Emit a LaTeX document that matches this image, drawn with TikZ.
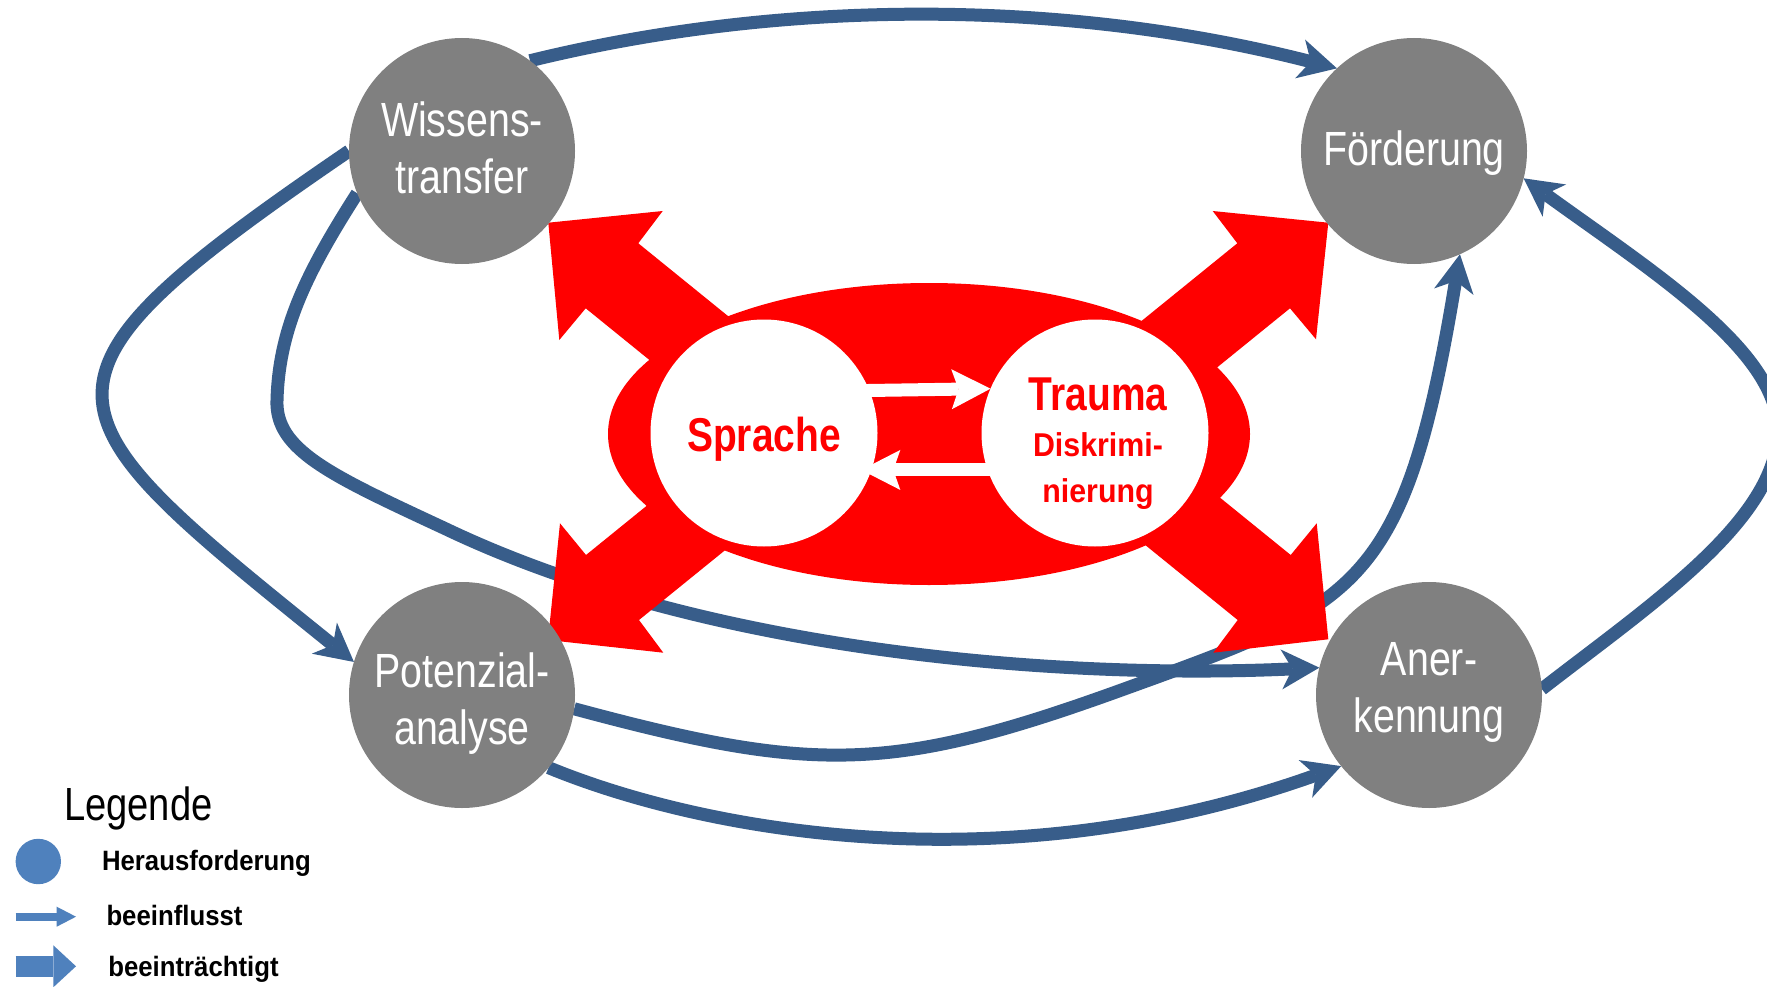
\documentclass[tikz,border=0pt]{standalone}
\usepackage{fontspec}
\usetikzlibrary{arrows.meta}
\newfontfamily\narrowf[FakeStretch=0.82]{Liberation Sans}
\newfontfamily\semif[FakeStretch=0.92]{Liberation Sans}
\definecolor{cblue}{RGB}{56,93,138}
\definecolor{lblue}{RGB}{79,129,189}
\definecolor{cgray}{RGB}{128,128,128}
\definecolor{cred}{RGB}{255,0,0}
\pgfdeclarelayer{bglayer}
\pgfdeclarelayer{midlayer}
\pgfsetlayers{bglayer,midlayer,main}
\tikzset{
  gnode/.style={circle, fill=cgray, minimum size=226pt, inner sep=0pt, outer sep=0pt,
    align=center, text=white, font=\narrowf\fontsize{48}{57}\selectfont, text depth=0pt},
  wnode/.style={circle, fill=white, minimum size=227pt, inner sep=0pt, outer sep=0pt,
    align=center, text=cred, text depth=0pt},
  conn/.style={line width=13pt, draw=cblue,
    -{Stealth[length=38pt,width=40pt,inset=11pt,line width=0pt]}},
  warrow/.style={line width=13pt, draw=white,
    -{Stealth[length=39pt,width=40pt,inset=7pt,line width=0pt]}},
  redshape/.style={fill=cred},
  legtext/.style={anchor=base west, inner sep=0pt, outer sep=0pt,
    font=\semif\bfseries\fontsize{28}{32}\selectfont},
}
\begin{document}
\begin{tikzpicture}[x=1pt,y=-1pt]
\useasboundingbox (0,0) rectangle (1767,987);

% nodes
\node[gnode, text height=86pt] (W) at (462,151) {Wissens-\\transfer};
\node[gnode, text height=30pt] (F) at (1414,151) {Förderung};
\node[gnode, text height=98pt] (P) at (462,695) {Potenzial-\\analyse};
\node[gnode, text height=74pt] (A) at (1429,695) {Aner-\\kennung};
\node[wnode, text height=36pt, font=\narrowf\bfseries\fontsize{47.5}{50}\selectfont] (S) at (764,433) {Sprache};
\node[wnode, text height=139.4pt, font=\semif\bfseries\fontsize{33}{46}\selectfont] (T) at (1095,433)
  {\hspace*{6pt}{\narrowf\bfseries\fontsize{47.5}{46}\selectfont Trauma}\\\hspace*{6pt}Diskrimi-\\\hspace*{6pt}nierung};

% white arrows between Sprache and Trauma
\draw[warrow, shorten <=-6pt] (S.22.7) -- (T.157.5);
\draw[warrow, shorten <=-6pt, shorten >=-10pt] (T.199) -- (S.341);

% red shapes
\begin{pgfonlayer}{midlayer}
\fill[redshape] (929,434) ellipse [x radius=321pt, y radius=151pt];
\fill[redshape] (548.3,222.7) -- (662.7,211) -- (638.3,243.3) -- (809.2,381.9) -- (756.6,446.9) -- (585.7,308.3) -- (559.3,340) -- cycle;
\fill[redshape] (1328.3,222.7) -- (1212.7,211) -- (1237.3,243.3) -- (1066.4,381.9) -- (1119.1,446.9) -- (1290,308.3) -- (1316,339.3) -- cycle;
\fill[redshape] (548,640) -- (560,523.3) -- (586,555) -- (756.9,416.4) -- (809.9,481.4) -- (639,620) -- (663.3,652.7) -- cycle;
\fill[redshape] (1328.3,639.3) -- (1316.7,523.3) -- (1290.7,555) -- (1119.8,416.4) -- (1066.8,481.4) -- (1237.7,620) -- (1213.3,652.7) -- cycle;
\end{pgfonlayer}

% blue connectors
\begin{pgfonlayer}{bglayer}
\fill[white] (0,0) rectangle (1767,987);
\draw[conn] (W.53) .. controls (790,-3) and (1070,0) .. (F.133);
\draw[conn] (W.180) .. controls (6,385) and (39,408) .. (P.163);
\draw[conn] (W.202) .. controls (305,275) and (279,330) .. (277,400)
  .. controls (275,450) and (330,475) .. (446,529)
  .. controls (700,650) and (1050,680) .. (A.166);
\draw[conn] (P.353) .. controls (815.5,773.75) and (892,773.5) .. (1127,688)
  .. controls (1359,604) and (1405,589) .. (F.294);
\draw[conn] (P.320) .. controls (700,830) and (1000,888) .. (A.219);
\draw[conn] (A.3) .. controls (1650,605) and (1778,520) .. (1778,430)
  .. controls (1778,350) and (1650,270) .. (F.346);
\end{pgfonlayer}

% legend
\node[anchor=base west, inner sep=0pt, outer sep=0pt, font=\narrowf\fontsize{46.5}{50}\selectfont] (Lg) at (64,820) {Legende};
\node[circle, fill=lblue, minimum size=45.4pt, inner sep=0pt] (Lc) at (38.3,861.5) {};
\node[legtext] (L1) at (102,870) {Herausforderung};
\coordinate (la1) at (15.7,916.7);
\coordinate (la2) at (76,916.7);
\draw[line width=8pt, lblue, -{Triangle[length=19.3pt,width=20pt,line width=0pt]}] (la1) -- (la2);
\node[legtext] (L2) at (106.5,925) {beeinflusst};
\coordinate (lb1) at (15.7,966.3);
\coordinate (lb2) at (76,966.3);
\draw[line width=20.7pt, lblue, -{Triangle[length=22.7pt,width=42pt,line width=0pt]}] (lb1) -- (lb2);
\node[legtext] (L3) at (108.3,976) {beeinträchtigt};
\end{tikzpicture}
\end{document}
